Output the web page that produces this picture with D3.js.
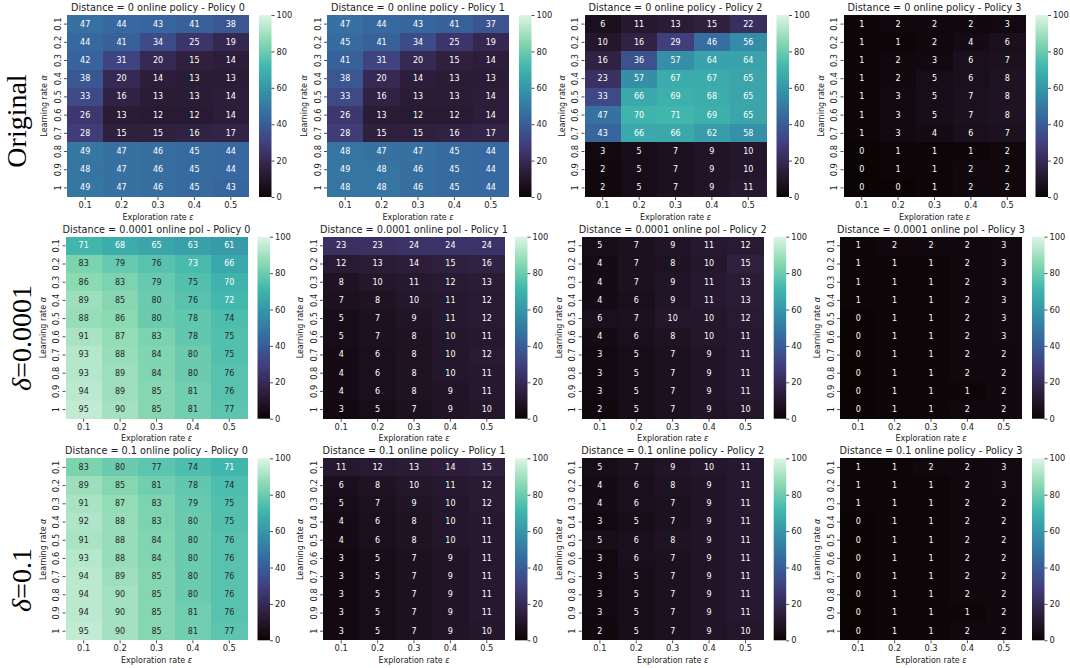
<!DOCTYPE html>
<html>
<head>
<meta charset="utf-8">
<script src="https://cdn.jsdelivr.net/npm/d3@7/dist/d3.min.js"></script>
<style>
  html, body { margin: 0; padding: 0; background: #ffffff; }
  svg { display: block; }
  text { font-family: "DejaVu Sans", sans-serif; fill: #222; }
</style>
</head>
<body>
<svg id="chart" width="1070" height="668"></svg>
<script>
// Axis categories
const learningRates = ["0.1", "0.2", "0.3", "0.4", "0.5", "0.6", "0.7", "0.8", "0.9", "1"];
const explorationRates = ["0.1", "0.2", "0.3", "0.4", "0.5"];
const colorbarTicks = [0, 20, 40, 60, 80, 100];

// Row headings and panel titles
const rowLabels = [["", "Original"], ["δ", "=0.0001"], ["δ", "=0.1"]];
const rowTitlePrefixes = ["Distance = 0 online policy", "Distance = 0.0001 online pol", "Distance = 0.1 online policy"];
const policyNames = ["Policy 0", "Policy 1", "Policy 2", "Policy 3"];

// Success rates (%) — rows: learning rate α, columns: exploration rate ε
const original_p0 = [
  [47,44,43,41,38],[44,41,34,25,19],[42,31,20,15,14],[38,20,14,13,13],[33,16,13,13,14],
  [26,13,12,12,14],[28,15,15,16,17],[49,47,46,45,44],[48,47,46,45,44],[49,47,46,45,43]];
const original_p1 = [
  [47,44,43,41,37],[45,41,34,25,19],[41,31,20,15,14],[38,20,14,13,13],[33,16,13,13,14],
  [26,13,12,12,14],[28,15,15,16,17],[48,47,47,45,44],[49,48,46,45,44],[48,48,46,45,44]];
const original_p2 = [
  [6,11,13,15,22],[10,16,29,46,56],[16,36,57,64,64],[23,57,67,67,65],[33,66,69,68,65],
  [47,70,71,69,65],[43,66,66,62,58],[3,5,7,9,10],[2,5,7,9,10],[2,5,7,9,11]];
const original_p3 = [
  [1,2,2,2,3],[1,1,2,4,6],[1,2,3,6,7],[1,2,5,6,8],[1,3,5,7,8],
  [1,3,5,7,8],[1,3,4,6,7],[0,1,1,1,2],[0,1,1,2,2],[0,0,1,2,2]];

const delta1e4_p0 = [
  [71,68,65,63,61],[83,79,76,73,66],[86,83,79,75,70],[89,85,80,76,72],[88,86,80,78,74],
  [91,87,83,78,75],[93,88,84,80,75],[93,89,84,80,76],[94,89,85,81,76],[95,90,85,81,77]];
const delta1e4_p1 = [
  [23,23,24,24,24],[12,13,14,15,16],[8,10,11,12,13],[7,8,10,11,12],[5,7,9,11,12],
  [5,7,8,10,11],[4,6,8,10,12],[4,6,8,10,11],[4,6,8,9,11],[3,5,7,9,10]];
const delta1e4_p2 = [
  [5,7,9,11,12],[4,7,8,10,15],[4,7,9,11,13],[4,6,9,11,13],[6,7,10,10,12],
  [4,6,8,10,11],[3,5,7,9,11],[3,5,7,9,11],[3,5,7,9,11],[2,5,7,9,10]];
const delta1e4_p3 = [
  [1,2,2,2,3],[1,1,1,2,3],[1,1,1,2,3],[1,1,1,2,3],[0,1,1,2,3],
  [0,1,1,2,3],[0,1,1,2,2],[0,1,1,2,2],[0,1,1,1,2],[0,1,1,2,2]];

const delta01_p0 = [
  [83,80,77,74,71],[89,85,81,78,74],[91,87,83,79,75],[92,88,83,80,75],[91,88,84,80,76],
  [93,88,84,80,76],[94,89,85,80,76],[94,90,85,80,76],[94,90,85,81,76],[95,90,85,81,77]];
const delta01_p1 = [
  [11,12,13,14,15],[6,8,10,11,12],[5,7,9,10,12],[4,6,8,10,11],[4,6,8,10,11],
  [3,5,7,9,11],[3,5,7,9,11],[3,5,7,9,11],[3,5,7,9,11],[3,5,7,9,10]];
const delta01_p2 = [
  [5,7,9,10,11],[4,6,8,9,11],[4,6,7,9,11],[3,5,7,9,11],[5,6,8,9,11],
  [3,6,7,9,11],[3,5,7,9,11],[3,5,7,9,11],[3,5,7,9,11],[2,5,7,9,10]];
const delta01_p3 = [
  [1,1,2,2,3],[1,1,1,2,3],[1,1,1,2,2],[0,1,1,2,2],[0,1,1,2,2],
  [0,1,1,2,2],[0,1,1,2,2],[0,1,1,2,2],[0,1,1,1,2],[0,1,1,2,2]];

const grid = [
  [original_p0, original_p1, original_p2, original_p3],
  [delta1e4_p0, delta1e4_p1, delta1e4_p2, delta1e4_p3],
  [delta01_p0, delta01_p1, delta01_p2, delta01_p3]
];

// ---- layout ----
const rowTops = [15, 236.7, 458.3];
const colLefts = [[67, 327, 584.5, 843.5], [65.5, 323, 581.7, 840], [65.5, 323, 581.7, 840]];
const hmW = 182, hmH = 182;
const cbGap = 10, cbW = 12.5;
const rowLabelPos = [[26, 121], [31, 338], [31, 580]];

// mako-like colour ramp
const makoStops = ["#0b0405", "#2e1e3b", "#413d7b", "#37659e", "#348fa7", "#40b7ad", "#8ad9b1", "#def5e5"];
const makoPos = [0, 1/7, 2/7, 3/7, 4/7, 5/7, 6/7, 1];
const mako = d3.scaleLinear().domain(makoPos).range(makoStops).interpolate(d3.interpolateRgb).clamp(true);
const color = v => mako(v / 100);

function luminance(c) {
  const rgb = d3.rgb(c);
  const lin = u => { u /= 255; return u <= 0.03928 ? u / 12.92 : Math.pow((u + 0.055) / 1.055, 2.4); };
  return 0.2126 * lin(rgb.r) + 0.7152 * lin(rgb.g) + 0.0722 * lin(rgb.b);
}

const svg = d3.select("#chart");

// shared vertical gradient for colorbars
const defs = svg.append("defs");
const grad = defs.append("linearGradient").attr("id", "makoGrad")
  .attr("x1", 0).attr("y1", 1).attr("x2", 0).attr("y2", 0);
d3.range(0, 1.0001, 0.02).forEach(t => {
  grad.append("stop").attr("offset", t).attr("stop-color", mako(t));
});

const x = d3.scaleBand().domain(explorationRates).range([0, hmW]).padding(0);
const y = d3.scaleBand().domain(learningRates).range([0, hmH]).padding(0);
const cbScale = d3.scaleLinear().domain([0, 100]).range([hmH, 0]);

grid.forEach((row, r) => {
  row.forEach((mat, c) => {
    const left = colLefts[r][c], top = rowTops[r];
    const g = svg.append("g").attr("transform", `translate(${left},${top})`);

    const cells = [];
    mat.forEach((vals, i) => vals.forEach((v, j) => cells.push({ i, j, lr: learningRates[i], ex: explorationRates[j], v })));

    // each cell overlaps its right/bottom neighbour slightly so no seams show
    g.append("g").attr("shape-rendering", "crispEdges")
      .selectAll("rect.cell").data(cells).join("rect")
      .attr("class", "cell")
      .attr("x", d => x(d.ex))
      .attr("y", d => y(d.lr))
      .attr("width", d => x.bandwidth() + (d.j < explorationRates.length - 1 ? 1 : 0))
      .attr("height", d => y.bandwidth() + (d.i < learningRates.length - 1 ? 1 : 0))
      .attr("fill", d => color(d.v));

    g.selectAll("text.annot").data(cells).join("text")
      .attr("class", "annot")
      .attr("x", d => x(d.ex) + x.bandwidth() / 2)
      .attr("y", d => y(d.lr) + y.bandwidth() / 2)
      .attr("text-anchor", "middle")
      .attr("dominant-baseline", "central")
      .style("font-size", "8px")
      .style("fill", d => luminance(color(d.v)) > 0.408 ? "#262626" : "#ffffff")
      .text(d => d.v);

    // x axis
    const xa = g.append("g").attr("transform", `translate(0,${hmH})`)
      .call(d3.axisBottom(x).tickSize(3).tickPadding(2));
    xa.select(".domain").remove();
    xa.selectAll("line").attr("stroke", "#222").attr("stroke-width", 0.8);
    xa.selectAll("text").style("font-size", "8.3px").style("font-family", "DejaVu Sans").attr("fill", "#222");

    // y axis with vertical tick labels
    const ya = g.append("g").call(d3.axisLeft(y).tickSize(3).tickPadding(2));
    ya.select(".domain").remove();
    ya.selectAll("line").attr("stroke", "#222").attr("stroke-width", 0.8);
    ya.selectAll("text")
      .attr("x", null).attr("dy", null)
      .attr("text-anchor", "middle")
      .attr("dominant-baseline", "central")
      .attr("transform", "translate(-9.5,0) rotate(-90)")
      .style("font-size", "8.3px").style("font-family", "DejaVu Sans").attr("fill", "#222");

    // title
    g.append("text")
      .attr("x", hmW / 2).attr("y", -7.5)
      .attr("text-anchor", "middle").attr("dominant-baseline", "central")
      .style("font-size", "9.7px")
      .text(`${rowTitlePrefixes[r]} - ${policyNames[c]}`);

    // axis labels
    const xl = g.append("text")
      .attr("x", hmW / 2).attr("y", hmH + 19.7)
      .attr("text-anchor", "middle").attr("dominant-baseline", "central")
      .style("font-size", "8px");
    xl.append("tspan").text("Exploration rate ");
    xl.append("tspan").style("font-style", "italic").text("ε");

    const yl = g.append("text")
      .attr("transform", `translate(-23,${hmH / 2}) rotate(-90)`)
      .attr("text-anchor", "middle").attr("dominant-baseline", "central")
      .style("font-size", "8px");
    yl.append("tspan").text("Learning rate ");
    yl.append("tspan").style("font-style", "italic").text("α");

    // colorbar
    const cb = svg.append("g").attr("transform", `translate(${left + hmW + cbGap},${top})`);
    cb.append("rect").attr("width", cbW).attr("height", hmH).attr("fill", "url(#makoGrad)");
    const ca = cb.append("g").attr("transform", `translate(${cbW},0)`)
      .call(d3.axisRight(cbScale).tickValues(colorbarTicks).tickSize(3).tickPadding(2));
    ca.select(".domain").remove();
    ca.selectAll("line").attr("stroke", "#222").attr("stroke-width", 0.8);
    ca.selectAll("text").style("font-size", "8.3px").style("font-family", "DejaVu Sans").attr("fill", "#222");
  });
});

// row headings
rowLabels.forEach((lab, r) => {
  const t = svg.append("text")
    .attr("transform", `translate(${rowLabelPos[r][0]},${rowLabelPos[r][1]}) rotate(-90)`)
    .attr("text-anchor", "middle")
    .style("font-family", "Liberation Serif, serif")
    .style("font-size", "28px")
    .style("fill", "#000");
  if (lab[0]) t.append("tspan").style("font-style", "italic").text(lab[0]);
  t.append("tspan").text(lab[1]);
});
</script>
</body>
</html>
